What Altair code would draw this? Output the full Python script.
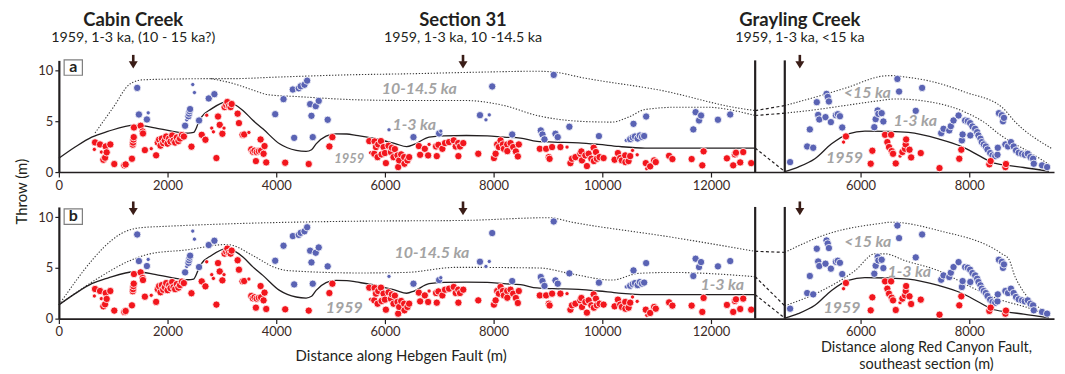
import altair as alt
import pandas as pd

# ------------------------------------------------------------------ data
# scarp throw measurements: (distance along fault [m], throw [m], minor-scarp flag)
HEB_1959 = [
    (653, 2.23, 1), (666, 2.92), (758, 2.72), (782, 1.97, 1), (819, 1.21), (850, 1.41), (862, 2.52),
    (880, 1.94), (947, 2.72), (1020, 0.79), (1204, 0.66), (1229, 0.75), (1345, 1.31),
    (1360, 2.7), (1365, 2.9), (1372, 3.2), (1378, 3.44), (1382, 4.39), (1505, 4.56), (1541, 4.0),
    (1548, 3.8), (1583, 2.16), (1700, 2.3, 1), (1790, 1.65), (1820, 2.9), (1845, 3.2), (1870, 2.6),
    (1895, 3.3), (1920, 2.85), (1950, 3.1), (1975, 3.5), (2000, 2.8), (2030, 3.3), (2055, 3.0),
    (2085, 3.6), (2110, 3.1), (2140, 2.9), (2170, 3.4), (2200, 3.05), (2230, 3.3), (2265, 3.65),
    (2300, 3.5), (2440, 2.5), (2629, 3.67), (2697, 3.18), (2721, 5.6, 1), (2813, 4.33, 1),
    (2844, 3.96, 1), (2899, 1.38), (2929, 5.47), (2960, 4.65), (3009, 3.77), (3039, 4.33, 1),
    (3050, 6.4), (3080, 6.6), (3100, 6.9), (3130, 6.5), (3160, 6.4), (3180, 6.7),
    (3290, 5.75), (3314, 4.82), (3380, 3.67), (3410, 3.7), (3497, 3.9, 1), (3541, 2.23), (3570, 2.0),
    (3600, 2.1), (3640, 1.97), (3680, 2.05), (3720, 2.1), (3626, 1.08), (3712, 3.21), (3785, 2.56),
    (3767, 1.8), (3816, 0.95), (4165, 0.92), (4598, 0.79), (4978, 2.52), (5033, 3.44),
    (5712, 3.05), (5736, 1.9, 1), (5804, 1.8), (5810, 3.02), (5835, 2.46), (5865, 1.47), (5877, 2.72),
    (5927, 3.05), (5938, 1.74), (5975, 2.46), (6000, 1.87), (6018, 0.88), (6066, 2.59), (6110, 1.97),
    (6128, 2.39), (6158, 1.47), (6183, 2.26), (6231, 1.64), (6244, 0.49), (6262, 1.15), (6299, 1.74),
    (6354, 1.47), (6360, 0.82), (6415, 1.15), (6446, 1.47), (6624, 2.56), (6648, 1.7), (6734, 2.29),
    (6795, 1.64), (6813, 2.72, 1), (6941, 2.52), (6954, 1.57), (6984, 2.68), (7057, 2.29), (7106, 2.85),
    (7180, 2.95), (7266, 3.12), (7303, 2.52), (7350, 2.85), (7352, 1.57), (7382, 2.52), (7442, 2.85),
    (7718, 1.8), (8006, 1.38), (8037, 1.8), (8066, 2.72), (8097, 2.46), (8128, 3.12), (8171, 2.72),
    (8189, 2.29), (8250, 2.72), (8252, 2.06), (8312, 2.85), (8360, 2.46), (8409, 2.03), (8446, 1.54),
    (8464, 2.72), (8850, 2.29), (8966, 2.29), (9015, 1.47), (9030, 1.3), (9076, 2.46), (9229, 2.46),
    (9351, 2.46, 1), (9413, 0.88), (9442, 1.31), (9505, 1.47), (9596, 1.8), (9626, 1.15), (9615, 2.03),
    (9688, 1.64), (9717, 0.59), (9749, 1.8), (9798, 1.31), (9841, 2.39), (9845, 1.08), (9883, 1.97),
    (9901, 1.31), (9950, 1.47), (10024, 1.38), (10226, 1.21), (10287, 1.87), (10330, 1.38),
    (10360, 1.15), (10422, 1.64), (10425, 0.98), (10483, 1.08), (10513, 1.57), (10556, 2.13, 1),
    (10642, 1.7, 1), (10800, 0.88), (10818, 0.33, 1), (10881, 0.56), (10954, 1.15), (10984, 0.98),
    (11229, 1.6), (11290, 1.28), (11644, 1.28), (11840, 0.66), (11864, 2.04), (12293, 1.35),
    (12409, 0.66), (12440, 1.74), (12460, 1.9), (12538, 0.95), (12593, 1.97), (12740, 0.88),
]
HEB_OLDER = [
    (1442, 8.29), (1473, 5.67), (1620, 5.18), (1644, 5.83, 1), (2323, 4.56), (2354, 5.14, 1),
    (2385, 5.5), (2395, 5.75), (2405, 6.0), (2415, 6.2), (2464, 8.62, 1), (2495, 7.83, 1),
    (2580, 5.08), (2758, 7.25), (2862, 7.67), (3981, 5.7), (4134, 7.18), (4305, 8.13), (4330, 3.37),
    (4414, 8.25), (4450, 8.45), (4520, 8.6), (4569, 9.0), (4624, 6.69), (4648, 5.54), (4672, 3.44),
    (4727, 6.49), (4782, 7.01), (4947, 5.15), (6075, 4.16, 1), (6525, 3.44), (6997, 3.8),
    (7028, 4.03, 1), (7749, 5.6), (7859, 5.14, 1), (7920, 5.63, 1), (7974, 8.43), (8342, 3.7),
    (8868, 4.1), (8899, 3.7), (8936, 3.22), (9106, 9.57), (9138, 3.77), (9180, 3.44), (9394, 4.46),
    (9938, 3.54), (10440, 3.12, 1), (10513, 3.24), (10560, 3.4), (10600, 3.5), (10650, 3.3),
    (10690, 3.6), (10730, 3.45), (10770, 3.55), (10574, 4.75), (10807, 5.47), (11675, 4.2),
    (11717, 5.9), (11780, 5.08), (11817, 5.57), (12128, 5.15), (12354, 5.67),
]
RC_1959 = [
    (5686, 2.95, 1), (5730, 3.51), (6186, 0.82), (6216, 2.1), (6450, 3.67), (6492, 2.95), (6523, 2.46),
    (6561, 3.67), (6572, 2.06), (6597, 1.8), (6647, 0.85), (6726, 1.57, 1), (6769, 1.97), (6818, 2.29),
    (6830, 2.72), (6838, 3.21), (6900, 2.2), (6930, 1.44), (7107, 1.87), (7452, 0.39), (7816, 1.31),
    (7853, 2.2), (8369, 0.76), (8393, 1.08), (8664, 0.49), (8675, 0.79),
]
RC_OLDER = [
    (4703, 0.98), (5017, 2.52), (5066, 4.2), (5128, 2.39), (5194, 6.88), (5219, 5.63), (5240, 5.18),
    (5354, 5.41), (5373, 7.7), (5395, 7.4), (5417, 6.95), (5453, 4.92), (5545, 5.6), (5580, 5.7),
    (5620, 5.5), (5662, 4.39), (6252, 4.42), (6277, 5.21), (6314, 6.07), (6327, 5.73), (6388, 5.8),
    (6419, 4.98), (6677, 9.17), (6708, 7.93), (7015, 6.03), (7132, 8.29), (7483, 3.83), (7526, 4.26),
    (7631, 4.1), (7660, 4.52), (7710, 5.08), (7803, 5.57), (7864, 3.12), (7877, 3.7), (8019, 3.61),
    (7923, 5.08), (7972, 5.01), (8016, 4.82), (8058, 4.49), (8108, 4.26), (8145, 3.93), (8169, 3.61),
    (8206, 3.28), (8230, 2.95), (8267, 2.72), (8304, 2.52), (8335, 2.23), (8385, 1.87), (8427, 1.64),
    (8477, 1.57), (8519, 1.7), (8525, 2.39), (8545, 5.8), (8600, 5.6), (8620, 5.0), (8638, 5.34),
    (8664, 2.72), (8712, 2.52), (8767, 2.95), (8817, 2.52), (8860, 2.13), (8910, 1.9), (8971, 1.8),
    (9021, 1.7), (9076, 1.8), (9126, 1.47), (9174, 1.31), (9187, 0.82), (9339, 0.66), (9432, 0.49),
]

# cumulative-throw envelopes: (distance [m], throw [m])
ENV_1959_HEB = [
    (0, 1.35), (299, 2.46), (605, 3.44), (900, 4.0), (1400, 4.62), (1767, 4.36), (2073, 4.03),
    (2378, 3.83), (2480, 3.9), (2562, 4.75), (2624, 5.41), (2807, 6.22), (3112, 6.95), (3220, 6.7),
    (3387, 6.07), (3570, 5.1), (3754, 4.26), (4061, 2.78), (4367, 2.13), (4550, 2.03), (4650, 2.2),
    (4734, 2.78), (4917, 3.54), (5101, 3.77), (5300, 3.75), (5468, 3.61), (5835, 3.28), (6202, 2.78),
    (6400, 2.5), (6538, 2.72), (6813, 3.44), (7088, 3.57), (7500, 3.6), (7883, 3.57), (8189, 3.44),
    (8495, 3.34), (8800, 3.02), (9106, 2.95), (9565, 2.88), (9932, 2.72), (10299, 2.52),
    (10789, 2.36), (11500, 2.36), (12813, 2.36),
]
ENV_1959_RC = [
    (4605, 0.05), (4851, 0.49), (5159, 1.31), (5466, 2.78), (5773, 3.77), (6080, 4.03), (6500, 4.0),
    (6880, 3.9), (7433, 3.27), (7864, 2.5), (8171, 1.64), (8417, 0.95), (8700, 0.65), (9000, 0.45),
    (9463, 0.07),
]
A_HEB_13KA = [
    (2800, 9.2), (3235, 8.68), (3510, 8.19), (3877, 7.6), (4367, 7.44), (5528, 7.11), (6446, 7.05),
    (7455, 7.05), (8189, 6.56), (8800, 5.57), (9657, 4.98), (10177, 4.92), (10483, 5.41),
    (10789, 6.16), (11400, 6.39), (11890, 6.39), (12813, 5.57),
]
A_HEB_OLD = [
    (666, 3.85), (1000, 6.36), (1308, 8.68), (1369, 8.85), (1523, 9.08), (2000, 9.15), (2800, 9.2),
    (3204, 9.2), (4000, 9.35), (5528, 9.6), (6354, 9.67), (7660, 9.83), (8800, 9.93), (9106, 9.85),
    (9657, 9.27), (11094, 8.03), (12500, 6.3), (12813, 6.05),
]
A_RC_13KA = [
    (4605, 5.8), (5159, 6.13), (5773, 6.6), (6300, 7.0), (6650, 7.2), (7310, 6.88), (7923, 5.9),
    (8300, 4.8), (8541, 3.77), (9156, 1.8), (9494, 0.66),
]
A_RC_OLD = [
    (4605, 6.55), (5159, 7.37), (5773, 8.36), (6388, 9.44), (6572, 9.5), (6695, 9.44), (7433, 8.75),
    (7923, 7.87), (8600, 6.39), (8848, 4.92), (9527, 2.29),
]
B_HEB_13KA = [
    (0, 1.35), (697, 3.9), (1308, 5.71), (1675, 6.38), (2349, 6.77), (3083, 7.3), (3204, 7.2),
    (3571, 6.21), (4000, 4.99), (4244, 4.72), (5528, 4.5), (6385, 4.55), (7303, 5.05), (8831, 4.99),
    (9443, 4.4), (10177, 3.8), (10667, 4.46), (11278, 4.55), (12813, 4.13),
]
B_HEB_OLD = [
    (0, 1.35), (1308, 8.75), (1491, 8.95), (2000, 9.1), (3204, 9.35), (5528, 9.6), (7424, 9.67),
    (9015, 9.94), (9443, 9.5), (11278, 8.02), (12813, 6.63),
]
B_RC_13KA = [
    (4605, 1.26), (5280, 2.74), (5896, 4.72), (6265, 6.38), (6450, 6.38), (6818, 5.71), (7433, 4.72),
    (8048, 3.07), (8541, 1.92), (9156, 0.93), (9494, 0.17),
]
B_RC_OLD = [
    (4605, 6.53), (5404, 8.36), (6327, 9.35), (6572, 9.5), (7433, 8.68), (8600, 6.38), (8725, 5.88),
    (8848, 4.06), (9494, 0.44),
]

HEB_TICKS = [0, 2000, 4000, 6000, 8000, 10000, 12000]
RC_TICKS = [6000, 8000]
Y_TICKS = [0, 5, 10]

# sites: name, events, fault, distance [m]
SITES = [
    ("Cabin Creek", "1959, 1-3 ka, (10 - 15 ka?)", "heb", 1369),
    ("Section 31", "1959, 1-3 ka, 10 -14.5 ka", "heb", 7437),
    ("Grayling Creek", "1959, 1-3 ka, <15 ka", "rc", 4882),
]
# envelope labels: text, fault, distance [m], throw [m], reduced
LABELS_A = [
    ("10-14.5 ka", "heb", 6631, 8.13, 0), ("1-3 ka", "heb", 6539, 4.65, 0), ("1959", "heb", 5345, 1.31, 1),
    ("<15 ka", "rc", 6124, 7.8, 0), ("1-3 ka", "rc", 7005, 5.01, 0), ("1959", "rc", 5702, 1.38, 0),
]
LABELS_B = [
    ("10-14.5 ka", "heb", 6864, 6.42, 0), ("1-3 ka", "heb", 12207, 3.28, 0), ("1959", "heb", 5253, 1.05, 0),
    ("<15 ka", "rc", 6133, 7.56, 0), ("1-3 ka", "rc", 6895, 4.62, 0), ("1959", "rc", 5656, 1.08, 0),
]
X_TITLE_HEB = "Distance along Hebgen Fault (m)"
X_TITLE_RC = ["Distance along Red Canyon Fault,", "southeast section (m)"]

# ------------------------------------------------------------------ layout
W, H = 998, 112
HEB_END = 12813
RC_START = 4605
RC_OFF = 8753            # Red Canyon distance -> shared x position
XMAX = 18312
INK = "#231f20"
TICKC = "#3b2a26"
RED = "#f2161d"
BLUE = "#5a63b4"
GREY = "#a3a3a3"
FONT = "Lato"


def sx(d, fault):
    return d + RC_OFF if fault == "rc" else d


def points_df():
    rows = []
    for fault, kind, lst in [("heb", "older", HEB_OLDER), ("rc", "older", RC_OLDER),
                             ("heb", "1959", HEB_1959), ("rc", "1959", RC_1959)]:
        for t in lst:
            rows.append({"X": sx(t[0], fault), "throw": t[1], "kind": kind,
                         "minor": t[2] if len(t) > 2 else 0})
    return pd.DataFrame(rows)


def lines_df(pairs):
    rows = []
    for i, (heb, rc) in enumerate(pairs):
        style = "solid" if i == 0 else "dot"
        for d, y in heb:
            rows.append({"X": sx(d, "heb"), "throw": y, "seg": f"h{i}", "style": style})
        for d, y in rc:
            rows.append({"X": sx(d, "rc"), "throw": y, "seg": f"r{i}", "style": style})
        # dashed link across the gap between the two faults
        rows.append({"X": sx(heb[-1][0], "heb"), "throw": heb[-1][1], "seg": f"c{i}", "style": "dash"})
        rows.append({"X": sx(rc[0][0], "rc"), "throw": rc[0][1], "seg": f"c{i}", "style": "dash"})
    return pd.DataFrame(rows)


def labels_df(lst):
    return pd.DataFrame([{"X": sx(d, f), "throw": y, "label": t, "fs": 13 if r else 16}
                         for t, f, d, y, r in lst])


PTS = points_df()
X_VALUES = HEB_TICKS + [v + RC_OFF for v in RC_TICKS]
X_ENC = alt.X("X:Q", scale=alt.Scale(domain=[0, XMAX], nice=False, zero=False),
              axis=alt.Axis(values=X_VALUES, title=None, grid=False, tickSize=5, labelPadding=2,
                            labelExpr=f"format(datum.value > {HEB_END} ? datum.value - {RC_OFF} : datum.value, 'd')",
                            domainWidth=1.6, tickWidth=1.2, labelFlush=False))
Y_ENC = alt.Y("throw:Q", scale=alt.Scale(domain=[0, 11], nice=False),
              axis=alt.Axis(values=Y_TICKS, title=None, grid=False, tickSize=4, labelPadding=2,
                            domainWidth=2.2, tickWidth=1.2))
ONE = pd.DataFrame({"k": [0]})


def row(pairs, labels, letter, box_top, first):
    ln = lines_df(pairs)
    lines = alt.Chart(ln)
    dotted = lines.transform_filter("datum.style == 'dot'").mark_line(
        interpolate="monotone", strokeDash=[1.3, 1.7], strokeWidth=1.1, color="#3a3a3a"
    ).encode(x=X_ENC, y=Y_ENC, detail="seg:N")
    dashed = lines.transform_filter("datum.style == 'dash'").mark_line(
        strokeDash=[3, 2.4], strokeWidth=1.2, color=INK
    ).encode(x=X_ENC, y=Y_ENC, detail="seg:N")
    solid = lines.transform_filter("datum.style == 'solid'").mark_line(
        interpolate="monotone", strokeWidth=1.3, color=INK
    ).encode(x=X_ENC, y=Y_ENC, detail="seg:N")

    pts = alt.Chart(PTS).mark_circle(opacity=1, stroke="white", strokeWidth=0.8).encode(
        x=X_ENC, y=Y_ENC,
        color=alt.Color("kind:N", scale=alt.Scale(domain=["older", "1959"], range=[BLUE, RED]), legend=None),
        size=alt.Size("minor:Q", scale=alt.Scale(domain=[0, 1], range=[54, 18]), legend=None),
    )

    lab = alt.Chart(labels_df(labels)).mark_text(
        font=FONT, fontStyle="italic", fontWeight="bold", color=GREY, align="center", baseline="middle"
    ).encode(x=X_ENC, y=Y_ENC, text="label:N", size=alt.Size("fs:Q", scale=None))

    walls = alt.Chart(pd.DataFrame({"X": [HEB_END, RC_START + RC_OFF]})).mark_rule(
        strokeWidth=2.2, color=INK).encode(x=X_ENC, y=alt.value(0), y2=alt.value(H))

    sites = pd.DataFrame([{"X": sx(d, f), "name": n, "ev": e} for n, e, f, d in SITES])
    shaft = alt.Chart(sites).mark_rule(strokeWidth=2.6, color="#3a1d17").encode(
        x=X_ENC, y=alt.value(-5.5), y2=alt.value(1.5))
    head = alt.Chart(sites).mark_point(shape="M-1,-0.8L1,-0.8L0,0.8Z", filled=True, opacity=1,
                                        color="#3a1d17", size=81).encode(x=X_ENC, y=alt.value(4.6))

    box = alt.Chart(ONE).mark_rect(fill="white", stroke="#7f7f7f", strokeWidth=1.2).encode(
        x=alt.value(5.3), x2=alt.value(23.6), y=alt.value(box_top), y2=alt.value(box_top + 15.4))
    let = alt.Chart(ONE).mark_text(font=FONT, fontWeight="bold", fontSize=16, color=INK,
                                   align="center", baseline="alphabetic").encode(
        x=alt.value(14.5), y=alt.value(box_top + 12.3), text=alt.value(letter))

    layers = [dotted, dashed, solid, pts, walls, lab, shaft, head, box, let]

    if first:
        layers.append(alt.Chart(sites).mark_text(font=FONT, fontWeight="bold", fontSize=18.5, color=INK,
                                                 align="center", baseline="alphabetic").encode(
            x=X_ENC, y=alt.value(-34.5), text="name:N"))
        layers.append(alt.Chart(sites).mark_text(font=FONT, fontSize=14.3, color=INK,
                                                 align="center", baseline="alphabetic").encode(
            x=X_ENC, y=alt.value(-18), text="ev:N"))
        layers.append(alt.Chart(ONE).mark_text(font=FONT, fontSize=15, color=INK, angle=270,
                                               align="center", baseline="middle").encode(
            x=alt.value(-36.7), y=alt.value(131.7), text=alt.value("Throw (m)")))
    else:
        heb_t = pd.DataFrame({"X": [6300]})
        rc_t = pd.DataFrame({"X": [7212 + RC_OFF]})
        layers.append(alt.Chart(heb_t).mark_text(font=FONT, fontSize=15, color=INK, align="center",
                                                 baseline="alphabetic").encode(
            x=X_ENC, y=alt.value(154), text=alt.value(X_TITLE_HEB)))
        layers.append(alt.Chart(rc_t).mark_text(font=FONT, fontSize=14.5, color=INK, align="center",
                                                baseline="alphabetic", lineHeight=17).encode(
            x=X_ENC, y=alt.value(145.5), text=alt.value(X_TITLE_RC)))

    return alt.layer(*layers).properties(width=W, height=H)


row_a = row([(ENV_1959_HEB, ENV_1959_RC), (A_HEB_13KA, A_RC_13KA), (A_HEB_OLD, A_RC_OLD)],
            LABELS_A, "a", -0.5, True)
row_b = row([(ENV_1959_HEB, ENV_1959_RC), (B_HEB_13KA, B_RC_13KA), (B_HEB_OLD, B_RC_OLD)],
            LABELS_B, "b", 2.0, False)

chart = alt.vconcat(row_a, row_b, spacing=35, bounds="flush").properties(
    padding={"left": 6, "top": 2, "right": 2, "bottom": 0}
).configure_view(stroke="transparent").configure_axis(
    labelFont=FONT, labelFontSize=13, labelColor=TICKC, tickColor=INK, domainColor=INK
)

chart.save("out.html", embed_options={"renderer": "svg", "actions": False})
